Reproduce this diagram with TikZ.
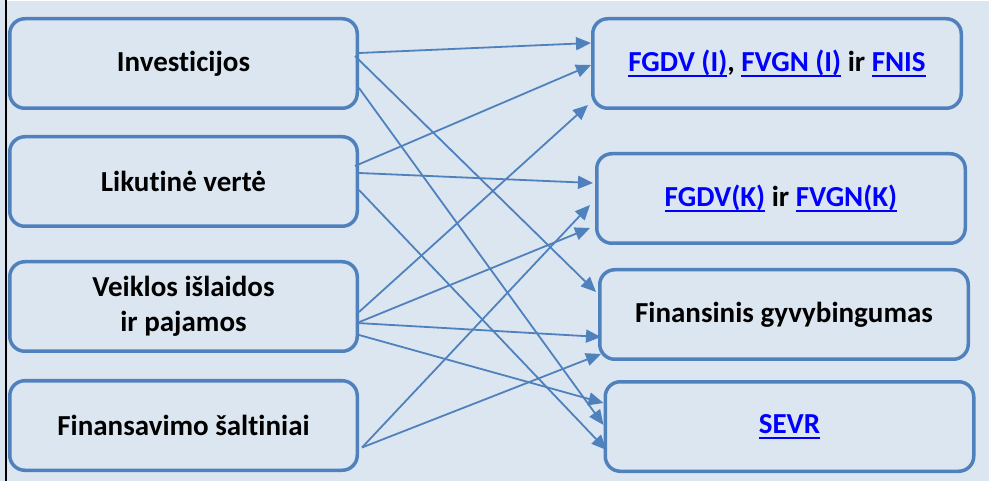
\documentclass[tikz,border=0pt]{standalone}
\usepackage{fontspec}
\setmainfont{Carlito}[Ligatures=NoCommon]
\usepackage{xcolor}
\usetikzlibrary{arrows.meta,positioning}
\definecolor{boxblue}{RGB}{79,129,189}
\definecolor{paleblue}{RGB}{220,230,241}
\definecolor{linkblue}{RGB}{0,0,255}
\newsavebox{\lnkbox}
\newcommand{\lnk}[1]{\textcolor{linkblue}{\sbox{\lnkbox}{#1}%
\rlap{\rule[-5.5pt]{\wd\lnkbox}{1.6pt}}\usebox{\lnkbox}}}

\begin{document}
\begin{tikzpicture}[x=1pt,y=1pt,font=\fontsize{29}{35}\selectfont\bfseries,
>={Triangle[length=15pt,width=13pt]}]
\tikzset{box/.style={draw=boxblue,line width=3.5pt,rounded corners=15pt,fill=paleblue,
minimum width=347.5pt,minimum height=89.5pt,align=center},
wide/.style={minimum width=368.5pt},
link/.style={->,draw=boxblue,line width=1.8pt}}
\fill[paleblue] (0,0) rectangle (989,-481);
\useasboundingbox (0,0) rectangle (989,-481);
\fill[white] (7,0) rectangle (989,-1.5);
\draw[line width=2pt] (6,0) -- (6,-481);
% left column
\node[box] (inv) at (183.5,-63.5) {Investicijos};
\node[box,below=25pt of inv] (lik) {Likutinė vertė};
\node[box,below=32pt of lik] (veik) {Veiklos išlaidos\\ir pajamos};
\node[box,below=26pt of veik] (fin) {Finansavimo šaltiniai};
% right column
\node[box,wide] (fgdvi) at (777,-63.5) {\lnk{FGDV (I)}, \lnk{FVGN (I)} ir \lnk{FNIS}};
\node[box,wide,below=42pt of fgdvi,xshift=4pt] (fgdvk) {\lnk{FGDV(K)} ir \lnk{FVGN(K)}};
\node[box,wide,below=23pt of fgdvk,xshift=3pt] (gyv) {Finansinis gyvybingumas};
\node[box,wide,below=19pt of gyv,xshift=5.5pt] (sevr) {\lnk{SEVR}};
% connectors
\draw[link] ([shift={(0,10.5)}]inv.east) -- ([shift={(0,20.5)}]fgdvi.west);
\draw[link] ([shift={(-4,7.5)}]inv.east) -- ([shift={(-2,22.5)}]gyv.west);
\draw[link] ([shift={(0,-24.5)}]inv.east) -- ([shift={(0,1.5)}]sevr.west);
\draw[link] ([shift={(-4,15.5)}]lik.east) -- ([shift={(0,-1.5)}]fgdvi.west);
\draw[link] ([shift={(0,8.5)}]lik.east) -- ([shift={(-2,15.5)}]fgdvk.west);
\draw[link] ([shift={(0,-8.5)}]lik.east) -- ([shift={(3,-23.5)}]sevr.west);
\draw[link] ([shift={(0,-5.5)}]veik.east) -- ([shift={(-3,-41.5)}]fgdvi.west);
\draw[link] ([shift={(-2,-16.5)}]veik.east) -- ([shift={(-5,-29.5)}]fgdvk.west);
\draw[link] ([shift={(-2,-16.5)}]veik.east) -- ([shift={(3,-22.5)}]gyv.west);
\draw[link] ([shift={(0,-28.5)}]veik.east) -- ([shift={(0,23.5)}]sevr.west);
\draw[link] ([shift={(3,-22)}]fin.east) -- ([shift={(-5,-6.5)}]fgdvk.west);
\draw[link] ([shift={(3,-22)}]fin.east) -- ([shift={(3,-39.5)}]gyv.west);
\end{tikzpicture}
\end{document}
